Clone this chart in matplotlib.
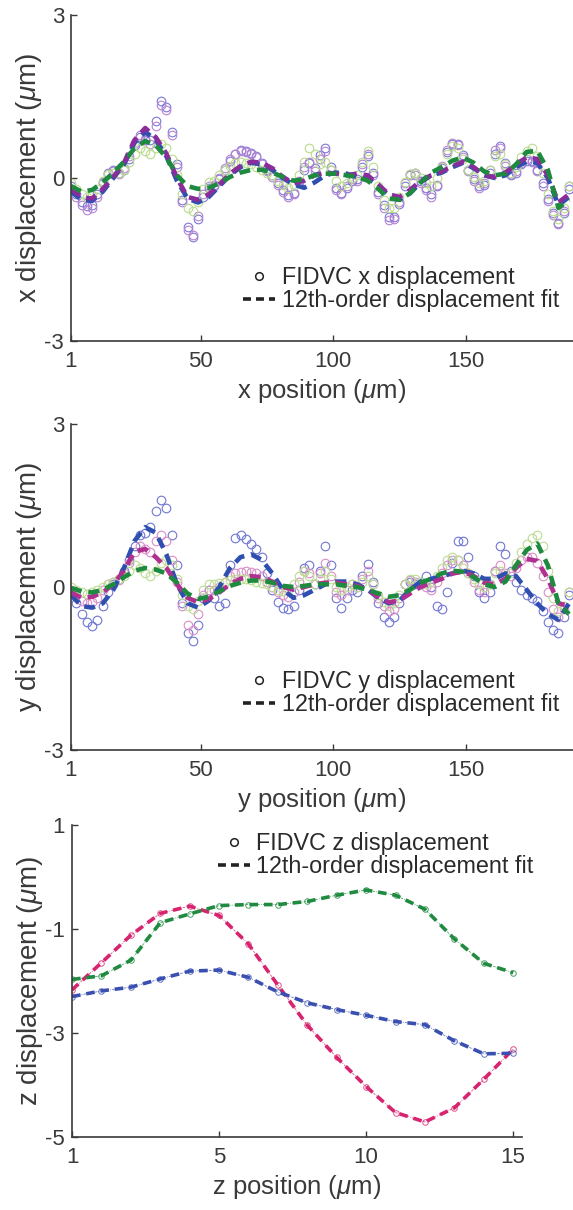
import numpy as np
import matplotlib
matplotlib.use("Agg")
import matplotlib.pyplot as plt
from matplotlib.lines import Line2D

plt.rcParams['font.family'] = ['Liberation Sans', 'DejaVu Sans']
plt.rcParams['mathtext.fontset'] = 'custom'
plt.rcParams['mathtext.it'] = 'Liberation Sans:italic'
plt.rcParams['mathtext.rm'] = 'Liberation Sans'
plt.rcParams['axes.unicode_minus'] = False

# ---------------- data ----------------
# sample positions (um)
pos_pts = np.arange(1, 190, 2)     # FIDVC sample positions
pos_fit = np.arange(1, 190, 4)     # fit evaluation positions

# ---- x displacement (top) ----
x_disp_blue = [
    -0.15, -0.30, -0.45, -0.52, -0.50, -0.30, -0.08, 0.10, 0.15, 0.10,
    0.15, 0.35, 0.60, 0.75, 0.70, 0.70, 1.05, 1.42, 1.30, 0.85,
    0.25, -0.40, -0.90, -1.08, -0.75, -0.35, -0.18, -0.15, -0.02, 0.15,
    0.32, 0.45, 0.52, 0.50, 0.46, 0.40, 0.28, 0.15, 0.05, -0.10,
    -0.22, -0.32, -0.28, -0.08, 0.15, 0.28, 0.18, 0.42, 0.55, 0.20,
    -0.18, -0.28, -0.18, -0.05, -0.02, 0.20, 0.40, 0.10, -0.25, -0.50,
    -0.72, -0.72, -0.48, -0.15, 0.05, 0.10, -0.05, -0.18, -0.30, -0.15,
    0.18, 0.48, 0.62, 0.62, 0.42, 0.15, -0.02, -0.15, -0.12, 0.10,
    0.45, 0.58, 0.28, 0.05, 0.10, 0.25, 0.32, 0.32, 0.15, -0.10,
    -0.38, -0.65, -0.82, -0.65, -0.20]
x_disp_purple = [
    -0.20, -0.35, -0.50, -0.58, -0.55, -0.35, -0.10, 0.08, 0.12, 0.08,
    0.18, 0.40, 0.65, 0.80, 0.72, 0.62, 0.95, 1.35, 1.25, 0.80,
    0.20, -0.45, -0.95, -1.05, -0.70, -0.30, -0.15, -0.12, 0.00, 0.18,
    0.35, 0.45, 0.50, 0.48, 0.45, 0.38, 0.25, 0.12, 0.02, -0.12,
    -0.25, -0.35, -0.30, -0.05, 0.20, 0.30, 0.12, 0.35, 0.50, 0.15,
    -0.22, -0.30, -0.15, -0.02, -0.05, 0.25, 0.45, 0.05, -0.30, -0.55,
    -0.78, -0.75, -0.45, -0.10, 0.08, 0.05, -0.10, -0.22, -0.35, -0.12,
    0.22, 0.52, 0.65, 0.60, 0.38, 0.12, -0.05, -0.18, -0.10, 0.15,
    0.52, 0.55, 0.22, 0.08, 0.12, 0.28, 0.35, 0.30, 0.12, -0.15,
    -0.42, -0.68, -0.85, -0.60, -0.15]
x_disp_green = [
    -0.10, -0.20, -0.30, -0.35, -0.32, -0.20, -0.05, 0.08, 0.10, 0.10,
    0.15, 0.30, 0.45, 0.55, 0.50, 0.45, 0.55, 0.62, 0.55, 0.35,
    0.05, -0.30, -0.55, -0.60, -0.45, -0.20, -0.08, -0.05, 0.05, 0.15,
    0.22, 0.28, 0.30, 0.28, 0.25, 0.20, 0.15, 0.10, 0.05, -0.05,
    -0.12, -0.18, -0.12, 0.05, 0.30, 0.55, 0.45, 0.25, 0.30, 0.15,
    -0.05, -0.15, -0.10, 0.00, 0.05, 0.30, 0.50, 0.20, -0.15, -0.40,
    -0.55, -0.55, -0.35, -0.08, 0.08, 0.10, 0.00, -0.10, -0.15, 0.00,
    0.20, 0.45, 0.58, 0.55, 0.35, 0.15, 0.02, -0.10, -0.05, 0.15,
    0.40, 0.45, 0.25, 0.10, 0.20, 0.38, 0.50, 0.55, 0.40, 0.10,
    -0.30, -0.60, -0.75, -0.55, -0.15]
x_fit_blue = [
    -0.25, -0.40, -0.42, -0.25, 0.00, 0.25, 0.65, 0.85, 0.70, 0.40, -0.05, -0.38,
    -0.45, -0.35, -0.15, 0.05, 0.20, 0.28, 0.25, 0.15, 0.00, -0.12, -0.18, -0.08,
    0.05, 0.10, 0.08, 0.02, 0.00, -0.15, -0.32, -0.40, -0.28, -0.08, 0.05, 0.10,
    0.20, 0.28, 0.18, 0.05, 0.00, 0.05, 0.20, 0.30, 0.28, 0.00, -0.50, -0.35]
x_fit_purple = [
    -0.20, -0.35, -0.38, -0.20, 0.02, 0.28, 0.70, 0.92, 0.75, 0.45, 0.00, -0.35,
    -0.40, -0.30, -0.12, 0.08, 0.22, 0.30, 0.28, 0.18, 0.02, -0.10, -0.05, 0.05,
    0.10, 0.08, 0.05, 0.08, 0.05, -0.12, -0.30, -0.35, -0.22, -0.05, 0.05, 0.12,
    0.22, 0.30, 0.20, 0.05, 0.02, 0.10, 0.25, 0.38, 0.35, 0.05, -0.45, -0.30]
x_fit_green = [
    -0.15, -0.25, -0.22, -0.08, 0.10, 0.30, 0.55, 0.68, 0.60, 0.38, 0.05, -0.15,
    -0.20, -0.18, -0.10, 0.02, 0.10, 0.15, 0.15, 0.10, 0.02, -0.05, -0.02, 0.05,
    0.08, 0.08, 0.05, 0.02, -0.05, -0.20, -0.38, -0.40, -0.28, -0.08, 0.10, 0.20,
    0.32, 0.38, 0.28, 0.12, 0.05, 0.08, 0.25, 0.48, 0.50, 0.15, -0.55, -0.40]

# ---- y displacement (middle) ----
y_disp_blue = [
    -0.10, -0.30, -0.50, -0.65, -0.72, -0.60, -0.35, -0.10, 0.05, 0.15,
    0.30, 0.50, 0.75, 0.95, 1.00, 1.10, 1.40, 1.60, 1.45, 0.95,
    0.40, -0.30, -0.85, -1.00, -0.70, -0.20, -0.05, -0.20, -0.35, -0.30,
    0.40, 0.90, 0.95, 0.88, 0.80, 0.70, 0.55, 0.25, -0.05, -0.28,
    -0.38, -0.40, -0.35, -0.05, 0.35, 0.40, 0.05, 0.30, 0.75, 0.40,
    -0.20, -0.38, -0.20, -0.05, -0.10, 0.20, 0.42, 0.10, -0.30, -0.55,
    -0.65, -0.55, -0.30, 0.05, 0.10, 0.05, 0.10, 0.20, 0.00, -0.35,
    -0.40, -0.10, 0.45, 0.85, 0.85, 0.55, 0.20, -0.10, -0.20, -0.10,
    0.30, 0.75, 0.60, 0.30, 0.10, -0.05, -0.15, -0.20, -0.25, -0.45,
    -0.65, -0.80, -0.85, -0.55, -0.15]
y_disp_magenta = [
    -0.05, -0.15, -0.25, -0.30, -0.28, -0.20, -0.05, 0.05, 0.10, 0.12,
    0.25, 0.45, 0.65, 0.75, 0.70, 0.65, 0.85, 0.95, 0.85, 0.50,
    0.10, -0.35, -0.70, -0.80, -0.50, -0.15, -0.05, -0.05, 0.00, 0.10,
    0.20, 0.25, 0.28, 0.30, 0.28, 0.25, 0.20, 0.10, 0.00, -0.10,
    -0.15, -0.18, -0.10, 0.10, 0.30, 0.25, 0.05, 0.25, 0.45, 0.20,
    -0.10, -0.15, -0.05, 0.05, 0.00, 0.15, 0.30, 0.05, -0.20, -0.35,
    -0.45, -0.40, -0.20, 0.05, 0.12, 0.10, 0.05, 0.00, -0.05, 0.10,
    0.25, 0.40, 0.50, 0.50, 0.40, 0.25, 0.10, -0.05, -0.10, 0.05,
    0.30, 0.40, 0.25, 0.20, 0.35, 0.50, 0.55, 0.55, 0.45, 0.20,
    -0.10, -0.40, -0.55, -0.40, -0.10]
y_disp_green = [
    0.00, -0.05, -0.10, -0.12, -0.10, -0.05, 0.00, 0.05, 0.10, 0.15,
    0.20, 0.30, 0.40, 0.35, 0.25, 0.20, 0.30, 0.45, 0.50, 0.40,
    0.15, -0.15, -0.35, -0.40, -0.25, -0.05, 0.05, 0.05, 0.08, 0.10,
    0.12, 0.15, 0.15, 0.15, 0.12, 0.10, 0.08, 0.05, 0.00, -0.05,
    -0.08, -0.05, 0.05, 0.20, 0.30, 0.20, 0.05, 0.15, 0.30, 0.15,
    0.00, -0.05, 0.00, 0.05, 0.00, 0.10, 0.20, 0.05, -0.15, -0.28,
    -0.35, -0.30, -0.15, 0.05, 0.15, 0.15, 0.10, 0.05, 0.10, 0.20,
    0.35, 0.50, 0.55, 0.50, 0.35, 0.25, 0.15, 0.05, 0.00, 0.05,
    0.25, 0.30, 0.20, 0.25, 0.45, 0.65, 0.80, 0.90, 0.95, 0.75,
    0.30, -0.20, -0.45, -0.35, -0.10]
y_fit_blue = [
    -0.15, -0.35, -0.38, -0.30, -0.05, 0.35, 0.85, 1.10, 1.00, 0.60, 0.05, -0.30,
    -0.38, -0.25, 0.00, 0.35, 0.55, 0.60, 0.50, 0.25, -0.05, -0.20, -0.15, -0.05,
    0.05, 0.10, 0.10, 0.05, -0.05, -0.20, -0.30, -0.25, -0.05, 0.10, 0.15, 0.20,
    0.25, 0.30, 0.25, 0.15, 0.15, 0.25, 0.20, -0.05, -0.30, -0.50, -0.60, -0.30]
y_fit_magenta = [
    -0.10, -0.20, -0.18, -0.10, 0.05, 0.30, 0.65, 0.70, 0.55, 0.35, 0.05, -0.20,
    -0.28, -0.22, -0.10, 0.05, 0.15, 0.20, 0.18, 0.10, 0.00, -0.05, 0.00, 0.05,
    0.08, 0.08, 0.05, 0.02, -0.05, -0.18, -0.28, -0.25, -0.12, 0.00, 0.08, 0.15,
    0.25, 0.28, 0.20, 0.08, 0.05, 0.15, 0.35, 0.52, 0.48, 0.15, -0.30, -0.35]
y_fit_green = [
    -0.02, -0.08, -0.10, -0.05, 0.05, 0.18, 0.30, 0.35, 0.32, 0.25, 0.08, -0.12,
    -0.22, -0.18, -0.08, 0.02, 0.08, 0.12, 0.12, 0.08, 0.02, 0.00, 0.02, 0.05,
    0.05, 0.05, 0.02, 0.00, -0.05, -0.12, -0.18, -0.15, -0.05, 0.08, 0.15, 0.25,
    0.30, 0.28, 0.18, 0.05, 0.00, 0.10, 0.40, 0.68, 0.80, 0.40, -0.30, -0.50]

# ---- z displacement (bottom) ----
z_pos = np.arange(0, 16)
z_disp_magenta = [-2.17, -1.65, -1.12, -0.70, -0.56, -0.74, -1.29, -2.08,
                  -2.85, -3.47, -4.03, -4.53, -4.71, -4.44, -3.89, -3.31]
z_disp_green = [-1.97, -1.90, -1.60, -0.88, -0.71, -0.55, -0.53, -0.53,
                -0.47, -0.35, -0.25, -0.35, -0.62, -1.19, -1.66, -1.84]
z_disp_blue = [-2.30, -2.19, -2.12, -1.96, -1.81, -1.79, -1.93, -2.21,
               -2.42, -2.55, -2.66, -2.78, -2.84, -3.15, -3.40, -3.39]

xy_tick_pos = [1, 50, 100, 150]
xy_tick_lab = ["1", "50", "100", "150"]
z_tick_pos = [0, 5, 10, 15]
z_tick_lab = ["1", "5", "10", "15"]

# ---------------- styling ----------------
TXT = '#3a3a3a'
W, H = 573, 1210
fig = plt.figure(figsize=(W / 100, H / 100), dpi=100)


def style_axes(ax):
    for s in ['top', 'right']:
        ax.spines[s].set_visible(False)
    for s in ['left', 'bottom']:
        ax.spines[s].set_color(TXT)
        ax.spines[s].set_linewidth(1.2)
    ax.tick_params(direction='in', length=4, width=1.0, color=TXT,
                   labelcolor=TXT, labelsize=16)
    ax.tick_params(axis='x', pad=7)
    ax.tick_params(axis='y', pad=5)


def legend(ax, comp, x0, y0):
    h1 = Line2D([], [], ls='none', marker='o', ms=5.5, mfc='none', mec='#222222', mew=1.1)
    h2 = Line2D([], [], ls=(0, (2.2, 1.4)), lw=2.6, color='#222222')
    leg = ax.legend([h1, h2], ['FIDVC %s displacement' % comp, '12th-order displacement fit'],
                    loc='upper left', bbox_to_anchor=(x0 / W, 1 - y0 / H),
                    bbox_transform=fig.transFigure, frameon=False, fontsize=16.8,
                    handlelength=1.35, handletextpad=0.3, labelspacing=0.0,
                    borderpad=0, borderaxespad=0)
    for t in leg.get_texts():
        t.set_color('#2a2a2a')


def panel_xy(ax, pts, fits, pcols, fcols, comp, ypos_leg):
    for vals, c in zip(pts, pcols):
        ax.plot(pos_pts, vals, ls='none', marker='o', ms=6.2, mfc='none', mec=c, mew=0.8)
    for vals, c in zip(fits, fcols):
        ax.plot(pos_fit, vals, ls=(0, (2.4, 1.5)), lw=3.3, color=c)
    ax.set_xlim(1, 190.5)
    ax.set_ylim(-3, 3)
    ax.set_yticks([-3, 0, 3])
    ax.set_yticklabels(['-3', '0', '3'])
    ax.set_xticks(xy_tick_pos)
    ax.set_xticklabels(xy_tick_lab)
    style_axes(ax)
    ax.set_xlabel('%s position ($\\mu$m)' % comp, fontsize=18.5, color=TXT, labelpad=4)
    ax.set_ylabel('%s displacement ($\\mu$m)' % comp, fontsize=20, color=TXT, labelpad=0)
    legend(ax, comp, 243, ypos_leg)


ax1 = fig.add_axes([71 / W, 1 - 341 / H, 1 - 71 / W, 326 / H])
panel_xy(ax1, [x_disp_blue, x_disp_purple, x_disp_green],
         [x_fit_blue, x_fit_purple, x_fit_green],
         ['#7b78d8', '#b783d2', '#b9dc8c'],
         ['#2f4fb0', '#8a2d9b', '#1d8a3f'], 'x', 266)

ax2 = fig.add_axes([71 / W, 1 - 750 / H, 1 - 71 / W, 326 / H])
panel_xy(ax2, [y_disp_blue, y_disp_magenta, y_disp_green],
         [y_fit_blue, y_fit_magenta, y_fit_green],
         ['#6f76d2', '#da8cc9', '#bcdc92'],
         ['#2f4fb0', '#b03090', '#1d8a3f'], 'y', 670)

ax3 = fig.add_axes([72 / W, 1 - 1137 / H, 450 / W, 312 / H])
for vals, c in zip([z_disp_magenta, z_disp_green, z_disp_blue],
                   ['#d8236f', '#1f8a40', '#3a50b0']):
    ax3.plot(z_pos, vals, ls=(0, (3, 1.5, 1, 1.5)), lw=0.6, color=c, alpha=0.8,
             marker='o', ms=4, mfc='none', mec=c, mew=0.7)
    ax3.plot(z_pos, vals, ls=(0, (2.4, 1.6)), lw=2.6, color=c)
ax3.set_xlim(0, 15.3)
ax3.set_ylim(-5, 1)
ax3.set_yticks([-5, -3, -1, 1])
ax3.set_yticklabels(['-5', '-3', '-1', '1'])
ax3.set_xticks(z_tick_pos)
ax3.set_xticklabels(z_tick_lab)
style_axes(ax3)
ax3.set_xlabel('z position ($\\mu$m)', fontsize=18.5, color=TXT, labelpad=4)
ax3.set_ylabel('z displacement ($\\mu$m)', fontsize=20, color=TXT, labelpad=0)
legend(ax3, 'z', 218, 832)

fig.savefig('out.png', dpi=100)
